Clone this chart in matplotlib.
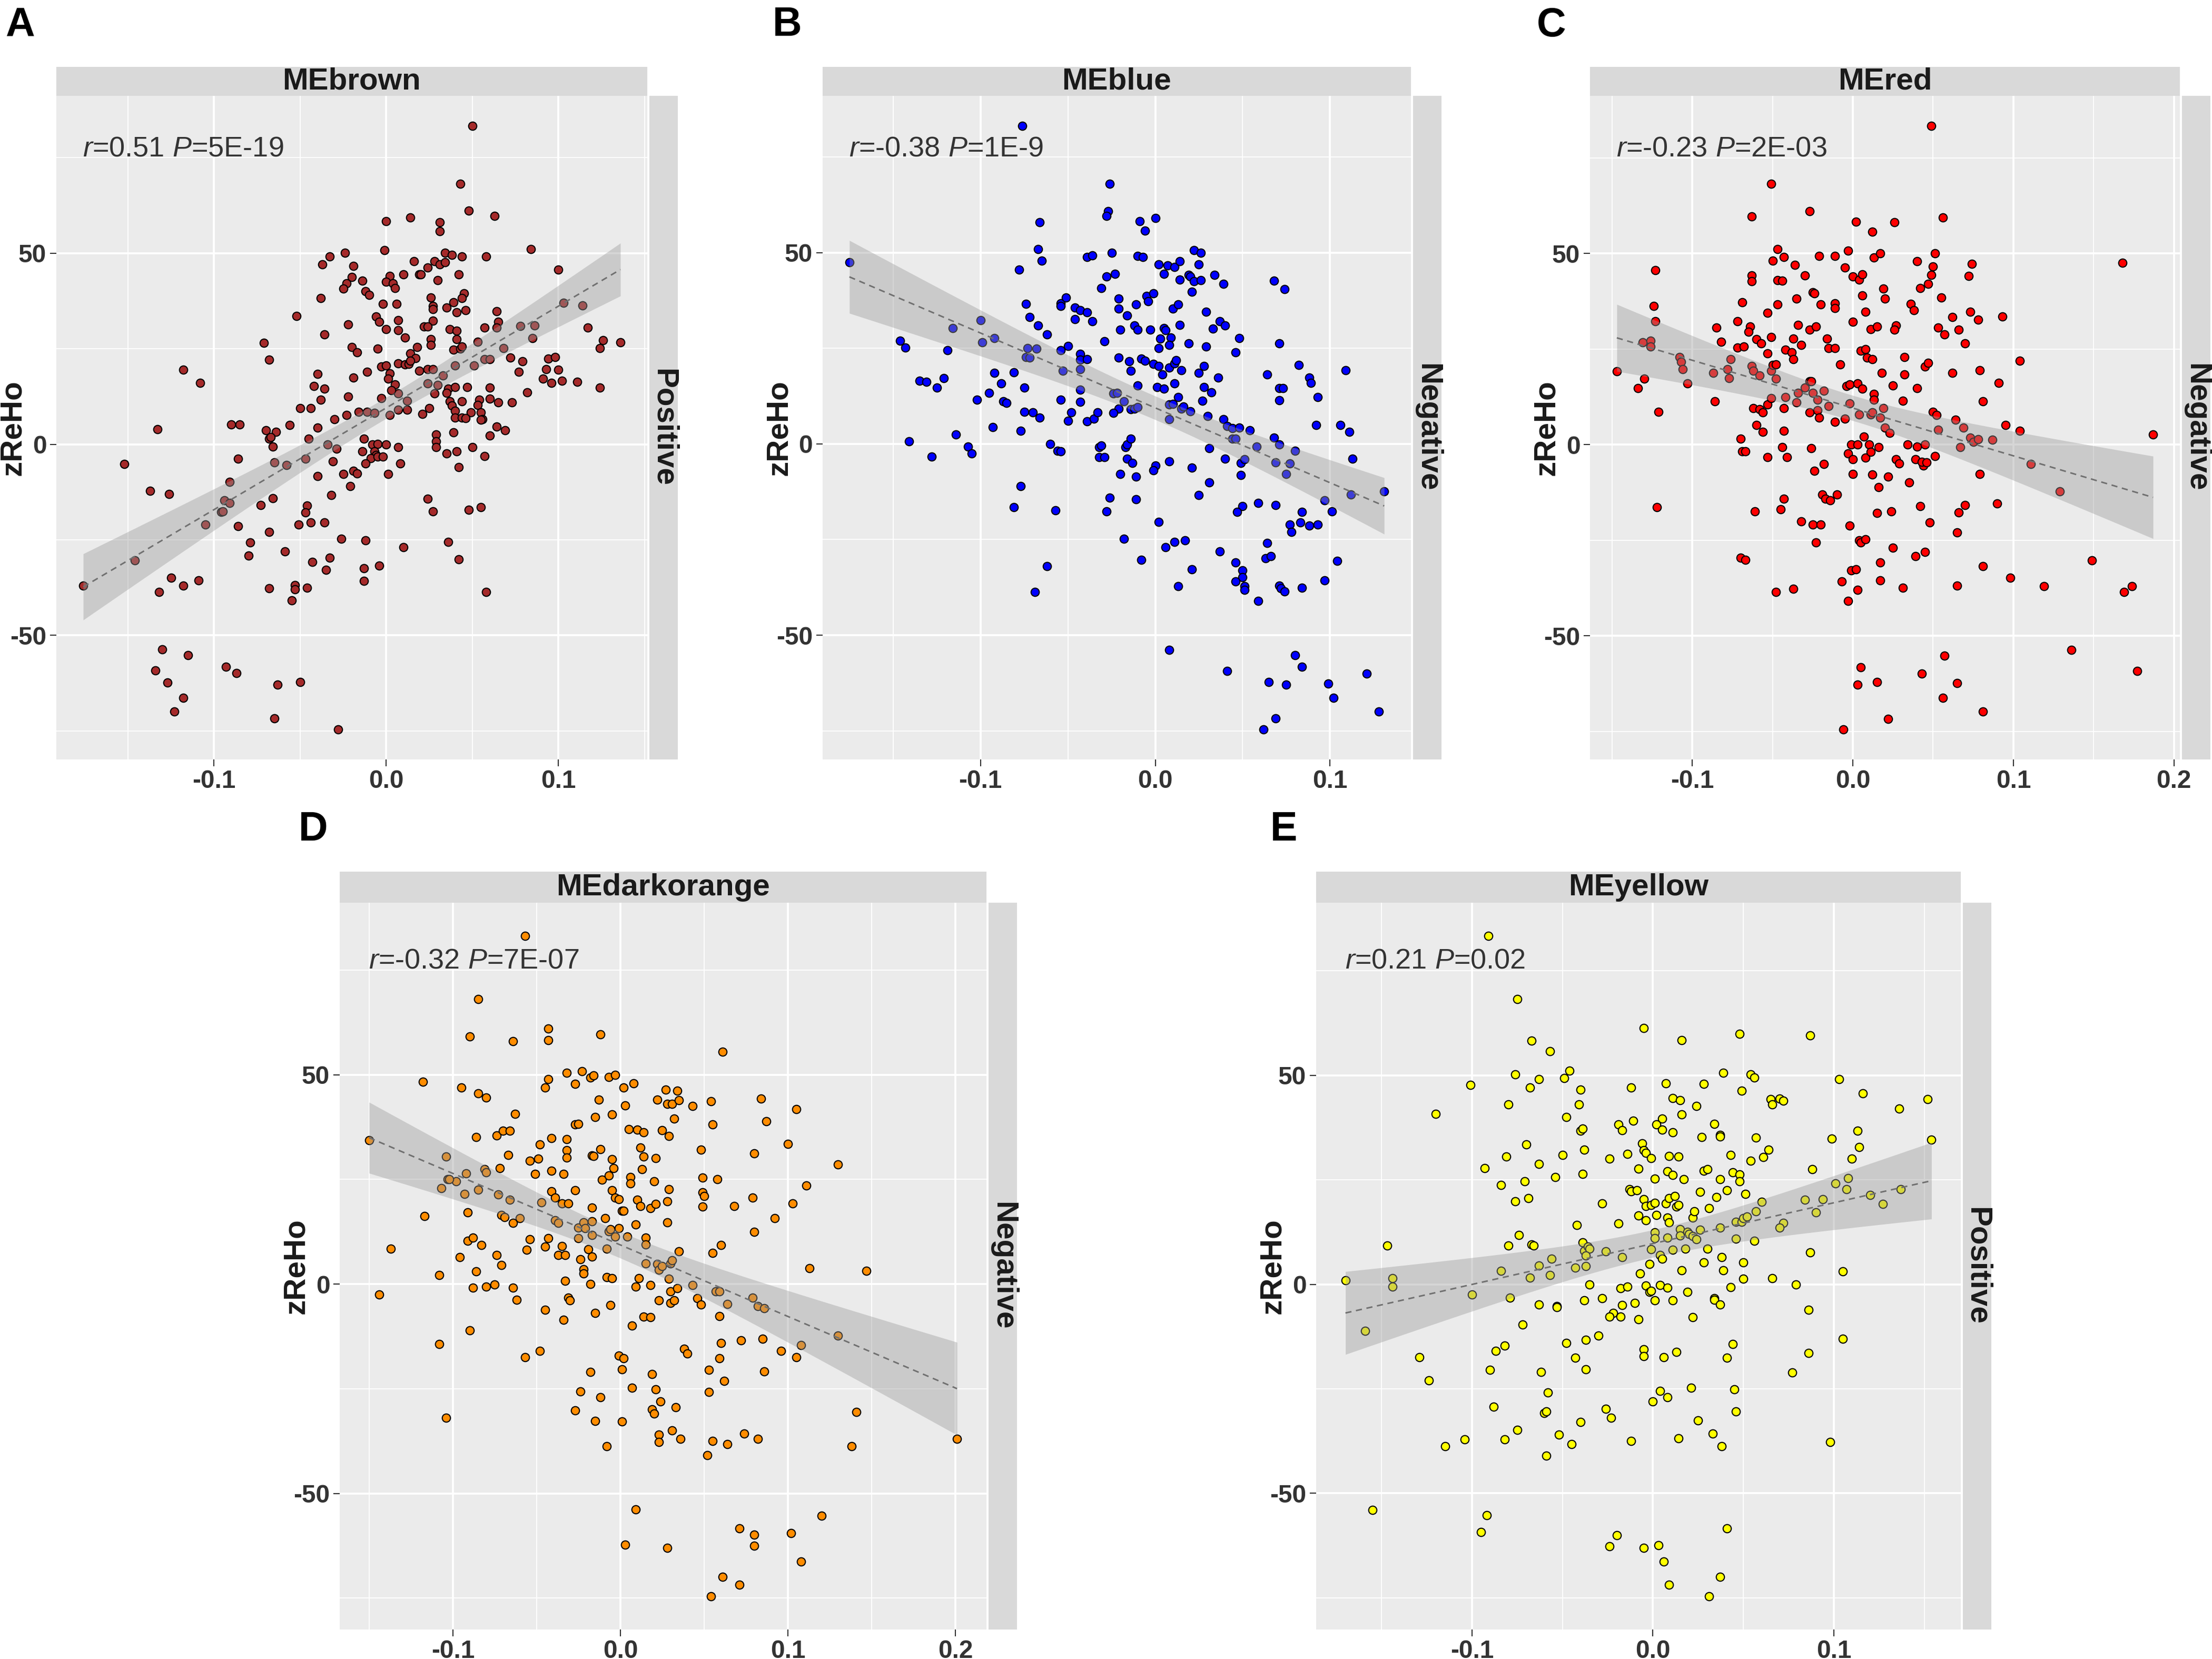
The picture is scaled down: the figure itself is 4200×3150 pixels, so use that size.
import numpy as np
import matplotlib.pyplot as plt
import matplotlib.ticker as ticker

plt.rcParams['font.family'] = ['Liberation Sans', 'DejaVu Sans']
plt.rcParams['axes.unicode_minus'] = False
plt.rcParams['mathtext.fontset'] = 'custom'
plt.rcParams['mathtext.it'] = 'Liberation Sans:italic'
plt.rcParams['mathtext.rm'] = 'Liberation Sans'

# module eigengene (x) vs zReHo (y)
brown_pts = [
    (0.050, 83.3), (0.043, 68.2), (0.048, 61.1), (0.063, 59.8), (0.000, 58.4), (0.014, 59.3), (0.031, 58.1),
    (0.031, 55.8), (-0.001, 50.8), (0.084, 51.1), (-0.024, 50.1), (-0.033, 49.2), (-0.037, 47.1), (0.016, 47.9),
    (0.034, 50.1), (0.038, 49.5), (0.044, 49.1), (0.058, 49.1), (0.028, 47.9), (0.031, 47.1), (0.034, 47.7),
    (0.024, 46.3), (-0.019, 46.7), (0.019, 44.5), (0.020, 44.4), (0.010, 44.4), (0.002, 44.1), (0.042, 44.4),
    (-0.020, 43.8), (-0.014, 42.8), (0.000, 42.6), (0.004, 42.1), (0.030, 42.9), (0.100, 45.7), (-0.023, 42.1),
    (-0.025, 40.8), (-0.012, 40.1), (-0.010, 39.1), (0.005, 40.9), (-0.038, 38.2), (0.026, 38.4), (0.045, 39.5),
    (0.044, 38.2), (-0.002, 36.8), (0.006, 36.7), (0.027, 36.2), (0.027, 35.3), (0.035, 35.8), (0.039, 37.2),
    (0.046, 35.1), (0.041, 34.6), (0.064, 34.8), (0.103, 37.0), (0.114, 36.3), (-0.052, 33.6), (-0.006, 33.5),
    (-0.004, 32.0), (0.007, 32.5), (0.027, 32.4), (0.065, 32.1), (-0.022, 31.3), (0.022, 30.8), (0.024, 30.8),
    (0.000, 30.1), (0.007, 29.9), (0.037, 30.1), (0.041, 29.7), (0.057, 30.6), (0.064, 30.6), (0.078, 31.0),
    (0.086, 31.1), (0.117, 30.6), (-0.036, 28.7), (0.011, 27.9), (0.026, 27.5), (0.041, 27.5), (0.085, 27.8),
    (0.126, 27.2), (0.136, 26.7), (0.053, 26.8), (-0.071, 26.5), (-0.020, 25.5), (-0.017, 24.1), (-0.005, 25.0),
    (0.018, 25.5), (0.026, 26.0), (0.039, 24.8), (0.043, 25.0), (0.044, 25.6), (0.068, 25.1), (0.124, 25.1),
    (0.014, 23.8), (0.017, 22.5), (0.072, 22.7), (0.079, 21.7), (0.094, 22.4), (0.098, 22.8), (0.057, 22.3),
    (0.060, 22.3), (-0.068, 22.1), (-0.003, 20.4), (0.000, 20.6), (0.007, 21.1), (0.011, 20.9), (0.013, 21.0),
    (0.014, 21.8), (0.051, 20.6), (0.040, 20.6), (-0.118, 19.5), (0.093, 19.6), (0.100, 19.5), (0.077, 18.9),
    (-0.040, 18.4), (-0.011, 18.9), (0.002, 18.6), (0.019, 19.3), (0.024, 19.6), (0.027, 19.7), (0.033, 18.0),
    (0.001, 17.2), (-0.019, 17.4), (0.091, 17.2), (0.096, 16.0), (0.102, 16.6), (0.111, 16.4), (0.124, 14.8),
    (-0.108, 16.1), (-0.042, 15.3), (-0.036, 14.5), (0.005, 15.7), (0.024, 15.9), (0.030, 15.5), (0.036, 14.5),
    (0.040, 14.9), (0.047, 14.9), (0.060, 14.8), (0.007, 13.3), (0.028, 13.3), (0.035, 13.5), (-0.022, 12.5),
    (0.003, 14.2), (-0.038, 11.6), (-0.003, 12.1), (0.037, 11.2), (0.038, 10.1), (0.044, 11.2), (0.054, 11.7),
    (0.053, 10.3), (0.060, 11.9), (0.065, 11.0), (0.073, 10.9), (0.082, 13.6), (0.012, 11.4), (-0.050, 9.4),
    (-0.044, 9.4), (-0.016, 8.5), (-0.023, 7.7), (-0.011, 8.5), (-0.007, 8.2), (0.002, 7.6), (0.007, 9.1),
    (0.012, 9.1), (0.021, 7.9), (0.025, 9.5), (0.040, 8.8), (0.049, 8.4), (0.055, 8.4), (0.056, 6.6),
    (0.055, 6.4), (0.040, 7.0), (0.044, 7.0), (0.046, 6.8), (-0.030, 6.6), (-0.090, 5.2), (-0.085, 5.2),
    (-0.056, 5.0), (-0.040, 4.4), (0.064, 4.6), (0.069, 3.6), (0.060, 2.3), (-0.133, 3.9), (-0.070, 3.6),
    (-0.064, 3.2), (-0.068, 1.4), (-0.067, 1.9), (-0.045, 1.5), (-0.013, 1.5), (0.029, 2.6), (0.029, 0.7),
    (0.039, 3.1), (-0.066, -0.6), (-0.034, -0.1), (-0.029, -1.1), (-0.008, 0.0), (-0.005, 0.1), (0.000, 0.0),
    (-0.014, -1.8), (-0.007, -1.9), (-0.006, -2.8), (-0.009, -3.7), (-0.005, -3.3), (-0.002, -3.3), (0.007, -0.8),
    (0.029, -0.8), (0.035, -2.4), (0.041, -1.8), (0.050, -0.7), (0.057, -3.1), (-0.152, -5.2), (-0.086, -3.8),
    (-0.065, -4.7), (-0.058, -5.5), (-0.047, -3.8), (-0.031, -4.5), (-0.012, -5.0), (0.008, -5.0), (0.042, -6.0),
    (-0.019, -6.9), (-0.017, -7.6), (-0.025, -7.8), (0.001, -7.8), (-0.040, -8.3), (-0.137, -12.2), (-0.126, -13.0),
    (-0.091, -9.8), (-0.021, -11.0), (-0.032, -13.3), (-0.094, -14.7), (-0.091, -15.4), (-0.096, -17.7),
    (-0.095, -17.6), (-0.066, -14.1), (-0.073, -15.9), (-0.046, -16.0), (-0.047, -17.9), (0.024, -14.2),
    (0.027, -17.6), (0.048, -17.1), (0.055, -16.5), (-0.105, -21.0), (-0.086, -21.4), (-0.051, -21.0),
    (-0.044, -20.5), (-0.036, -20.4), (-0.079, -25.7), (-0.068, -22.9), (-0.026, -24.7), (-0.012, -25.1),
    (0.036, -25.5), (0.010, -26.9), (-0.080, -29.2), (-0.059, -28.0), (-0.146, -30.4), (-0.033, -29.7),
    (-0.043, -30.8), (-0.035, -32.9), (-0.004, -31.8), (-0.013, -32.5), (0.042, -30.1), (-0.125, -34.9),
    (-0.109, -35.6), (-0.176, -37.0), (-0.118, -37.0), (-0.132, -38.6), (-0.068, -37.7), (-0.053, -36.8),
    (-0.053, -38.0), (-0.046, -37.5), (-0.013, -35.8), (0.058, -38.6), (-0.055, -40.9), (-0.130, -53.7),
    (-0.115, -55.2), (-0.134, -59.2), (-0.127, -62.4), (-0.093, -58.2), (-0.087, -59.9), (-0.063, -62.9),
    (-0.050, -62.2), (-0.118, -66.3), (-0.123, -70.0), (-0.065, -71.8), (-0.028, -74.6),
]

blue_pts = [
    (-0.076, 83.1), (-0.026, 68.0), (-0.027, 60.9), (-0.028, 59.6), (-0.009, 58.2), (0.000, 59.1), (-0.006, 55.7),
    (-0.066, 57.9), (-0.067, 50.9), (-0.065, 47.9), (-0.175, 47.5), (-0.078, 45.5), (-0.039, 48.9), (-0.036, 49.3),
    (-0.025, 49.9), (-0.010, 49.2), (-0.007, 48.9), (0.002, 46.9), (0.007, 46.6), (0.011, 46.2), (0.014, 47.7),
    (0.022, 50.7), (0.026, 50.0), (0.025, 46.9), (0.005, 44.4), (0.019, 44.2), (0.020, 43.8), (0.022, 42.5),
    (0.026, 42.8), (0.014, 42.9), (0.034, 44.2), (0.039, 41.9), (-0.028, 43.8), (-0.023, 44.4), (-0.031, 40.8),
    (0.068, 42.7), (0.074, 40.5), (0.021, 39.8), (-0.021, 38.0), (-0.011, 36.4), (-0.005, 38.7), (-0.004, 37.3),
    (-0.001, 39.3), (0.010, 35.4), (0.013, 36.4), (0.029, 34.6), (-0.021, 35.3), (-0.016, 33.6), (-0.074, 36.6),
    (-0.072, 33.2), (-0.054, 36.8), (-0.054, 36.1), (-0.051, 38.3), (-0.046, 35.7), (-0.043, 34.9), (-0.039, 34.4),
    (-0.046, 32.6), (-0.036, 32.0), (-0.067, 31.0), (-0.062, 28.6), (-0.012, 30.9), (-0.010, 29.8), (-0.020, 29.9),
    (-0.003, 29.9), (0.005, 30.3), (0.006, 29.7), (0.014, 31.1), (0.037, 32.0), (0.040, 30.9), (0.033, 30.1),
    (-0.116, 30.3), (-0.100, 32.3), (-0.099, 26.5), (-0.092, 27.6), (-0.146, 27.0), (-0.143, 25.2), (-0.119, 24.5),
    (-0.073, 25.1), (-0.068, 24.9), (-0.074, 22.7), (-0.072, 22.5), (-0.054, 24.5), (-0.050, 25.6), (-0.043, 23.5),
    (-0.043, 22.0), (-0.039, 22.2), (-0.043, 19.6), (-0.053, 19.1), (-0.029, 26.8), (0.003, 27.5), (0.009, 27.8),
    (0.002, 25.0), (0.008, 25.8), (0.019, 26.3), (0.029, 25.4), (0.048, 27.7), (0.046, 23.9), (0.071, 26.3),
    (-0.021, 22.6), (-0.015, 21.6), (-0.014, 19.1), (-0.008, 22.3), (-0.006, 21.7), (-0.001, 20.9), (0.002, 20.3),
    (0.004, 18.2), (0.008, 19.9), (0.011, 21.0), (0.012, 21.9), (0.015, 19.2), (0.025, 18.6), (0.028, 20.3),
    (0.036, 17.3), (0.064, 18.2), (0.082, 20.6), (0.088, 17.3), (0.089, 16.0), (0.109, 19.2), (-0.135, 16.5),
    (-0.131, 16.2), (-0.125, 14.7), (-0.121, 17.2), (-0.092, 18.5), (-0.088, 15.8), (-0.095, 13.4), (-0.102, 11.6),
    (-0.087, 11.1), (-0.085, 10.7), (-0.081, 18.7), (-0.075, 14.7), (-0.054, 11.6), (-0.043, 11.0), (-0.048, 8.2),
    (-0.050, 6.0), (-0.039, 5.9), (-0.035, 6.6), (-0.033, 8.3), (-0.043, 14.2), (-0.024, 13.2), (-0.022, 13.3),
    (-0.018, 11.1), (-0.021, 9.2), (-0.024, 8.1), (-0.014, 9.0), (-0.012, 9.2), (-0.010, 15.3), (-0.010, 9.6),
    (0.001, 14.8), (0.005, 14.5), (0.011, 15.8), (0.013, 12.2), (0.008, 10.3), (0.010, 10.5), (0.015, 9.2),
    (0.016, 9.7), (0.020, 8.5), (0.008, 6.5), (0.028, 14.9), (0.032, 13.5), (0.027, 11.3), (0.030, 7.3),
    (0.039, 6.4), (0.041, 4.7), (0.044, 4.1), (0.048, 4.3), (0.054, 3.6), (0.044, 1.3), (0.046, 1.3),
    (0.071, 14.6), (0.073, 14.6), (0.071, 11.4), (0.093, 12.3), (0.092, 5.0), (0.106, 5.0), (0.111, 3.2),
    (-0.141, 0.7), (-0.114, 2.5), (-0.093, 4.4), (-0.077, 3.4), (-0.075, 8.4), (-0.070, 8.2), (-0.066, 6.9),
    (-0.107, -0.7), (-0.105, -2.5), (-0.128, -3.3), (-0.060, 0.0), (-0.056, -1.8), (-0.054, -2.0), (-0.032, -0.8),
    (-0.031, -0.4), (-0.032, -3.4), (-0.029, -3.4), (-0.017, -0.8), (-0.016, -0.2), (-0.014, 1.3), (-0.016, -3.9),
    (-0.013, -5.0), (-0.020, -7.8), (-0.011, -8.5), (0.000, -5.6), (-0.001, -6.9), (0.008, -4.6), (0.021, -6.2),
    (0.031, -1.1), (0.040, -3.9), (0.049, -5.0), (0.051, -4.0), (0.049, -8.1), (0.058, -0.7), (0.068, 1.7),
    (0.071, -0.2), (0.069, -4.9), (0.077, -5.1), (0.080, -1.8), (0.075, -7.9), (0.113, -3.9), (-0.077, -11.1),
    (-0.081, -16.6), (-0.057, -17.3), (-0.026, -14.1), (-0.028, -17.7), (-0.011, -14.5), (0.031, -10.0),
    (0.025, -13.4), (0.059, -15.5), (0.050, -16.2), (0.047, -17.8), (0.069, -16.0), (0.084, -17.8), (0.097, -14.8),
    (0.101, -17.7), (0.112, -13.2), (0.131, -12.4), (0.002, -20.4), (0.077, -21.1), (0.078, -23.0), (0.083, -20.6),
    (0.088, -21.3), (0.093, -21.1), (-0.018, -24.8), (0.006, -27.0), (0.011, -25.6), (0.017, -25.2), (0.037, -28.1),
    (0.064, -25.9), (0.063, -29.9), (0.066, -29.3), (-0.008, -30.3), (0.021, -32.8), (0.046, -31.0), (0.050, -33.1),
    (0.050, -34.8), (0.046, -35.9), (0.051, -37.2), (0.051, -38.2), (0.059, -41.0), (0.071, -37.0), (0.072, -37.8),
    (0.074, -38.6), (0.084, -37.6), (0.097, -35.7), (0.104, -30.6), (0.013, -37.2), (-0.062, -31.9), (-0.069, -38.7),
    (0.008, -53.9), (0.041, -59.4), (0.080, -55.2), (0.084, -58.3), (0.065, -62.2), (0.075, -62.9), (0.099, -62.6),
    (0.121, -60.0), (0.102, -66.4), (0.128, -70.0), (0.069, -71.7), (0.062, -74.6),
]

red_pts = [
    (0.049, 83.3), (-0.051, 68.2), (-0.063, 59.7), (-0.027, 61.0), (0.002, 58.3), (0.012, 55.7), (0.026, 58.2),
    (0.056, 59.4), (-0.047, 51.1), (-0.050, 48.1), (-0.043, 49.1), (-0.036, 47.0), (-0.021, 49.3), (-0.011, 49.4),
    (-0.003, 50.7), (-0.005, 46.3), (0.013, 48.9), (0.017, 50.0), (0.040, 47.9), (0.051, 50.0), (0.050, 46.6),
    (0.074, 47.2), (0.168, 47.6), (-0.123, 45.6), (-0.063, 44.3), (-0.063, 42.7), (-0.047, 43.0), (-0.044, 42.8),
    (-0.030, 44.3), (0.000, 44.0), (0.004, 43.1), (0.006, 44.5), (0.049, 44.4), (0.047, 42.1), (0.072, 44.1),
    (0.042, 41.0), (0.019, 40.8), (-0.025, 39.9), (-0.024, 39.5), (-0.035, 38.2), (0.006, 39.0), (0.020, 38.2),
    (0.055, 38.4), (-0.124, 36.3), (-0.069, 37.2), (-0.047, 36.6), (-0.020, 36.6), (-0.011, 37.0), (-0.011, 35.7),
    (0.036, 36.8), (0.038, 35.2), (0.008, 34.8), (-0.053, 34.5), (-0.123, 32.2), (-0.072, 32.3), (-0.064, 30.9),
    (-0.065, 29.5), (-0.085, 30.6), (-0.034, 31.3), (-0.027, 30.0), (-0.023, 30.9), (0.000, 32.1), (0.011, 30.2),
    (0.015, 30.9), (0.027, 31.2), (0.026, 30.1), (0.053, 30.6), (0.057, 28.8), (0.062, 33.3), (0.066, 30.0),
    (0.073, 34.7), (0.078, 32.7), (0.093, 33.5), (-0.131, 26.8), (-0.126, 27.1), (-0.126, 25.7), (-0.082, 26.9),
    (-0.072, 25.4), (-0.068, 25.6), (-0.060, 27.6), (-0.057, 26.5), (-0.051, 28.1), (-0.053, 23.8), (-0.042, 24.8),
    (-0.038, 24.2), (-0.037, 27.7), (-0.032, 26.1), (-0.016, 27.7), (-0.015, 25.2), (-0.011, 25.2), (0.005, 24.6),
    (0.008, 25.0), (0.009, 22.7), (0.012, 22.4), (0.032, 22.9), (0.070, 26.5), (0.104, 22.0), (-0.108, 22.9),
    (-0.107, 21.7), (-0.106, 19.8), (-0.103, 16.0), (-0.076, 22.4), (-0.078, 19.7), (-0.077, 17.4), (-0.087, 18.8),
    (-0.147, 19.2), (-0.130, 17.3), (-0.134, 14.8), (-0.063, 20.5), (-0.062, 19.3), (-0.058, 18.1), (-0.051, 19.3),
    (-0.050, 20.9), (-0.048, 17.3), (-0.048, 21.0), (-0.037, 22.3), (-0.008, 21.0), (0.018, 18.7), (0.032, 18.4),
    (0.045, 20.4), (0.047, 21.4), (0.062, 18.8), (0.079, 19.4), (0.091, 16.1), (-0.030, 14.9), (-0.027, 16.6),
    (-0.026, 16.5), (-0.025, 13.6), (-0.034, 13.6), (-0.022, 11.7), (-0.042, 12.4), (-0.035, 11.1), (-0.018, 14.1),
    (-0.004, 15.3), (-0.002, 15.8), (0.003, 16.0), (0.006, 14.6), (0.013, 13.3), (0.013, 11.7), (0.025, 15.5),
    (0.040, 14.8), (0.031, 11.5), (0.081, 11.4), (-0.086, 11.3), (-0.121, 8.6), (-0.062, 9.6), (-0.058, 9.2),
    (-0.056, 8.4), (-0.053, 10.5), (-0.051, 12.2), (-0.043, 9.5), (-0.027, 8.5), (-0.022, 9.0), (-0.021, 7.0),
    (-0.015, 10.1), (-0.002, 10.8), (-0.005, 6.8), (-0.011, 6.0), (0.004, 7.9), (0.011, 7.9), (0.012, 8.5),
    (0.017, 7.1), (0.019, 9.5), (0.020, 4.4), (0.023, 3.1), (0.050, 8.6), (0.052, 7.7), (0.053, 3.9),
    (0.064, 6.5), (0.069, 4.5), (0.073, 1.8), (0.075, 0.8), (0.078, 1.4), (0.087, 1.3), (0.095, 5.1),
    (0.104, 3.6), (0.187, 2.6), (-0.060, 5.1), (-0.056, 3.3), (-0.070, 1.5), (-0.069, -1.7), (-0.067, -1.8),
    (-0.053, -3.3), (-0.044, -0.7), (-0.043, 3.6), (-0.041, -3.3), (-0.026, -0.9), (-0.018, -5.0), (-0.024, -6.8),
    (-0.003, -2.3), (-0.001, 0.0), (0.003, 0.0), (0.007, 2.1), (0.010, 0.1), (0.000, -3.8), (0.008, -3.4),
    (0.011, -1.9), (0.016, -0.6), (0.000, -7.6), (0.012, -7.8), (0.016, -11.1), (0.022, -8.3), (0.027, -3.8),
    (0.029, -4.9), (0.034, 0.0), (0.040, -0.5), (0.045, 0.1), (0.039, -3.8), (0.044, -5.5), (0.043, -4.5),
    (0.046, -4.6), (0.051, -3.0), (0.035, -9.8), (0.067, -0.7), (0.079, -7.7), (0.111, -5.1), (0.129, -12.2),
    (-0.122, -16.4), (-0.061, -17.4), (-0.045, -16.9), (-0.043, -14.2), (-0.019, -13.0), (-0.017, -14.1),
    (-0.014, -14.5), (-0.010, -13.0), (-0.032, -20.1), (-0.025, -20.9), (-0.020, -20.9), (-0.023, -25.5),
    (-0.002, -21.2), (0.004, -25.0), (0.005, -25.5), (0.008, -24.8), (0.015, -17.8), (0.024, -17.5), (0.042, -16.0),
    (0.048, -20.4), (0.066, -17.7), (0.070, -15.8), (0.090, -15.4), (0.065, -22.9), (-0.070, -29.6), (-0.067, -30.1),
    (0.025, -26.9), (0.039, -29.1), (0.045, -28.0), (0.017, -30.8), (0.081, -31.8), (-0.001, -32.8), (0.002, -32.6),
    (-0.007, -35.8), (0.017, -35.5), (-0.048, -38.5), (-0.037, -37.7), (0.003, -38.0), (-0.003, -40.9),
    (0.031, -37.4), (0.065, -36.8), (0.098, -34.8), (0.119, -37.0), (0.149, -30.3), (0.169, -38.5), (0.174, -37.0),
    (0.136, -53.7), (0.177, -59.1), (0.057, -55.1), (0.005, -58.2), (0.003, -62.8), (0.015, -62.1), (0.043, -59.8),
    (0.065, -62.3), (0.056, -66.2), (0.081, -69.8), (0.022, -71.7), (-0.006, -74.4),
]

darkorange_pts = [
    (-0.057, 83.2), (-0.085, 68.1), (-0.090, 59.2), (-0.064, 58.0), (-0.043, 61.0), (-0.043, 58.2), (-0.012, 59.7),
    (0.061, 55.5), (-0.118, 48.3), (-0.095, 46.9), (-0.085, 45.6), (-0.080, 44.6), (-0.063, 40.7), (-0.045, 47.0),
    (-0.043, 49.0), (-0.032, 50.5), (-0.027, 47.8), (-0.023, 50.9), (-0.018, 49.3), (-0.016, 49.8), (-0.007, 49.4),
    (-0.003, 49.9), (-0.013, 44.1), (0.002, 47.0), (0.008, 47.9), (0.003, 42.7), (-0.005, 40.5), (-0.015, 39.9),
    (0.022, 44.1), (0.027, 46.5), (0.034, 46.2), (0.028, 43.0), (0.031, 43.0), (0.035, 43.9), (0.043, 42.5),
    (0.054, 43.7), (0.084, 44.3), (0.105, 41.8), (-0.027, 38.1), (-0.025, 38.3), (0.005, 37.0), (0.010, 36.9),
    (0.014, 36.3), (0.025, 36.7), (0.029, 35.4), (0.032, 39.5), (0.055, 38.1), (0.087, 38.9), (-0.086, 35.1),
    (-0.074, 35.5), (-0.070, 36.6), (-0.066, 36.6), (-0.041, 34.9), (-0.032, 34.6), (-0.048, 33.3), (-0.150, 34.4),
    (-0.104, 30.5), (-0.067, 30.9), (-0.049, 29.9), (-0.054, 29.4), (-0.032, 32.0), (-0.032, 30.2), (-0.017, 30.7),
    (-0.016, 30.6), (-0.012, 32.2), (-0.005, 29.8), (-0.004, 27.7), (0.012, 32.6), (0.014, 30.5), (0.021, 30.1),
    (0.013, 27.4), (0.048, 32.1), (0.080, 31.2), (0.100, 33.5), (0.130, 28.6), (-0.081, 27.5), (-0.080, 26.7),
    (-0.072, 27.7), (-0.041, 27.1), (-0.034, 26.3), (-0.051, 26.3), (-0.092, 26.5), (-0.103, 25.1), (-0.098, 24.6),
    (-0.102, 25.1), (-0.107, 22.9), (-0.011, 24.9), (-0.007, 25.9), (0.006, 25.5), (0.006, 24.0), (0.020, 24.6),
    (0.049, 25.4), (0.058, 25.1), (0.111, 23.5), (-0.093, 21.5), (-0.085, 22.6), (-0.073, 21.4), (-0.066, 20.2),
    (-0.041, 22.2), (-0.039, 20.7), (-0.035, 19.3), (-0.031, 19.3), (-0.027, 22.4), (-0.005, 22.4), (-0.003, 20.6),
    (-0.001, 20.3), (0.001, 17.5), (0.002, 17.5), (0.010, 20.2), (0.012, 18.7), (0.018, 18.1), (0.021, 19.1),
    (0.028, 19.8), (0.029, 22.7), (0.049, 21.9), (0.050, 21.0), (0.049, 18.5), (0.068, 18.7), (0.079, 20.6),
    (0.103, 19.3), (-0.117, 16.3), (-0.091, 17.1), (-0.071, 16.5), (-0.069, 16.0), (-0.064, 14.6), (-0.060, 15.8),
    (-0.047, 19.5), (-0.039, 15.3), (-0.037, 14.6), (-0.025, 13.5), (-0.022, 14.7), (-0.021, 13.4), (-0.017, 15.0),
    (-0.025, 11.0), (-0.017, 11.7), (-0.017, 18.3), (-0.009, 15.8), (-0.007, 12.6), (-0.006, 13.1), (-0.003, 11.4),
    (-0.001, 13.4), (0.004, 11.3), (0.009, 14.2), (0.015, 11.1), (0.015, 9.5), (0.028, 14.7), (0.080, 12.5),
    (0.092, 15.7), (-0.137, 8.5), (-0.091, 10.3), (-0.088, 11.1), (-0.083, 9.3), (-0.056, 8.2), (-0.054, 10.7),
    (-0.096, 6.4), (-0.074, 7.0), (-0.071, 4.5), (-0.045, 9.0), (-0.043, 11.0), (-0.037, 6.9), (-0.035, 9.1),
    (-0.033, 6.9), (-0.024, 5.9), (-0.019, 8.3), (-0.017, 6.6), (-0.022, 3.5), (-0.022, 2.5), (-0.018, 0.0),
    (-0.008, 8.5), (-0.008, 1.6), (-0.005, 1.4), (0.015, 4.9), (0.022, 4.8), (0.023, 3.4), (0.025, 4.3),
    (0.030, 4.9), (0.031, 5.7), (0.035, 7.8), (0.011, 1.4), (0.009, -0.6), (0.018, -0.2), (0.029, 1.3),
    (0.030, -1.7), (0.034, -1.0), (0.043, -0.2), (0.055, 7.5), (0.060, 9.3), (0.057, -1.7), (0.059, -1.8),
    (-0.108, 2.2), (-0.144, -2.5), (-0.088, -0.8), (-0.086, 3.0), (-0.080, -0.6), (-0.075, -0.1), (-0.064, -0.8),
    (-0.062, -3.7), (-0.033, 0.8), (-0.031, -3.2), (-0.030, -3.9), (-0.045, -6.1), (-0.034, -8.5), (-0.015, -6.9),
    (-0.006, -5.0), (0.007, -9.9), (0.014, -7.8), (0.018, -7.9), (0.023, -3.9), (0.030, -4.5), (0.032, -3.9),
    (0.046, -3.4), (0.048, -4.9), (0.059, -7.7), (0.064, -4.8), (0.079, -3.2), (0.082, -5.3), (0.086, -5.7),
    (0.113, 3.8), (0.147, 3.2), (-0.090, -11.1), (-0.108, -14.3), (-0.057, -17.5), (-0.048, -15.9), (0.038, -15.5),
    (0.040, -16.6), (0.060, -14.1), (0.072, -13.4), (0.085, -13.1), (0.096, -16.0), (0.105, -17.5), (0.108, -14.6),
    (0.130, -12.3), (-0.001, -17.1), (0.002, -17.7), (0.001, -20.3), (0.059, -17.7), (-0.018, -21.0), (0.019, -21.5),
    (0.053, -20.5), (0.062, -23.1), (0.086, -20.9), (-0.024, -25.6), (-0.012, -27.0), (0.007, -24.7), (0.021, -25.1),
    (0.053, -25.8), (-0.027, -30.2), (0.019, -29.9), (0.020, -30.9), (0.024, -28.0), (0.033, -29.4), (-0.104, -31.9),
    (-0.015, -32.7), (0.001, -32.8), (0.031, -34.9), (0.023, -35.9), (0.023, -37.7), (0.036, -36.9), (-0.008, -38.7),
    (0.055, -37.5), (0.052, -40.9), (0.064, -38.2), (0.074, -35.7), (0.082, -37.0), (0.141, -30.5), (0.138, -38.7),
    (0.201, -37.0), (0.009, -53.8), (0.120, -55.3), (0.071, -58.3), (0.080, -59.9), (0.080, -62.5), (0.102, -59.5),
    (0.003, -62.3), (0.028, -63.0), (0.108, -66.3), (0.061, -69.9), (0.071, -71.8), (0.054, -74.6),
]

yellow_pts = [
    (-0.091, 83.4), (-0.075, 68.3), (-0.005, 61.3), (0.016, 58.4), (0.048, 59.9), (0.087, 59.5), (-0.067, 58.3),
    (-0.057, 55.8), (-0.076, 50.2), (-0.068, 47.1), (-0.063, 49.1), (-0.049, 49.3), (-0.046, 51.1), (-0.040, 46.6),
    (-0.101, 47.7), (-0.120, 40.8), (-0.080, 43.1), (-0.041, 43.1), (-0.048, 40.0), (-0.040, 36.7), (-0.039, 37.2),
    (-0.012, 47.1), (0.007, 48.1), (0.011, 44.6), (0.015, 44.1), (0.024, 42.7), (0.028, 47.9), (0.039, 50.6),
    (0.049, 46.3), (0.054, 50.2), (0.056, 49.5), (0.065, 44.3), (0.066, 43.0), (0.070, 44.4), (0.072, 43.9),
    (0.103, 49.1), (0.116, 45.7), (0.136, 42.0), (0.152, 44.3), (0.154, 34.6), (-0.019, 38.3), (-0.017, 36.9),
    (-0.011, 39.1), (0.005, 39.6), (0.002, 38.3), (0.005, 37.0), (0.011, 36.4), (0.016, 40.7), (0.027, 35.2),
    (0.034, 38.4), (0.037, 35.7), (0.037, 35.4), (0.057, 35.1), (0.099, 34.8), (0.113, 36.7), (0.114, 32.8),
    (-0.070, 33.4), (-0.081, 30.6), (-0.050, 30.9), (-0.038, 32.2), (-0.024, 30.0), (-0.014, 31.2), (-0.006, 33.7),
    (-0.005, 32.1), (-0.004, 31.5), (-0.001, 30.2), (0.009, 30.7), (0.014, 30.6), (0.043, 30.9), (0.054, 29.6),
    (0.061, 30.4), (0.064, 32.2), (0.110, 30.1), (-0.093, 27.8), (-0.063, 28.8), (-0.054, 25.7), (-0.084, 23.7),
    (-0.071, 24.7), (-0.039, 26.4), (-0.008, 27.7), (0.001, 25.3), (0.008, 27.0), (0.011, 26.2), (0.017, 25.2),
    (0.028, 27.1), (0.030, 27.6), (0.037, 25.1), (0.044, 26.8), (0.048, 26.3), (0.048, 24.6), (0.088, 27.5),
    (0.101, 24.1), (0.108, 25.4), (-0.076, 19.9), (-0.069, 20.6), (-0.028, 19.4), (-0.013, 22.7), (-0.012, 22.2),
    (-0.009, 22.5), (-0.005, 20.4), (-0.004, 18.7), (-0.001, 19.0), (0.001, 19.5), (0.007, 19.4), (0.009, 20.6),
    (0.012, 21.1), (0.013, 18.6), (0.014, 19.0), (0.026, 22.1), (0.035, 20.8), (0.041, 22.5), (0.051, 21.6),
    (0.060, 19.7), (0.084, 20.2), (0.094, 20.4), (0.107, 22.7), (0.120, 21.4), (0.127, 19.2), (0.137, 22.8),
    (-0.042, 14.2), (-0.019, 14.5), (-0.008, 16.4), (-0.004, 15.3), (0.002, 16.6), (0.008, 15.9), (0.009, 14.8),
    (0.022, 15.9), (0.023, 17.4), (0.031, 18.2), (0.046, 14.9), (0.049, 14.9), (0.050, 15.8), (0.052, 16.2),
    (0.057, 17.4), (0.072, 14.7), (0.070, 13.5), (0.090, 17.2), (-0.074, 11.8), (-0.067, 9.5), (-0.066, 9.3),
    (-0.080, 9.3), (-0.147, 9.3), (-0.039, 10.0), (-0.038, 8.0), (-0.036, 9.0), (-0.035, 8.5), (-0.037, 6.9),
    (-0.026, 7.9), (-0.017, 6.5), (0.001, 12.4), (0.001, 11.0), (-0.001, 8.4), (0.008, 11.1), (0.011, 8.2),
    (0.015, 13.2), (0.015, 11.7), (0.019, 12.6), (0.020, 12.1), (0.022, 11.5), (0.024, 10.8), (0.026, 13.1),
    (0.037, 13.6), (0.046, 10.9), (0.056, 10.4), (0.030, 8.5), (0.038, 6.5), (0.004, 7.0), (0.005, 6.1),
    (0.018, 8.5), (0.087, 7.6), (-0.063, 4.5), (-0.056, 6.1), (-0.057, 2.2), (-0.084, 3.2), (-0.068, 1.6),
    (-0.043, 4.0), (-0.037, 4.4), (-0.007, 2.6), (-0.002, 4.9), (0.016, 3.4), (0.028, 5.2), (0.039, 3.4),
    (0.050, 5.2), (0.050, 1.3), (0.066, 1.4), (0.105, 3.1), (-0.170, 0.9), (-0.144, 1.5), (-0.144, -0.6),
    (-0.100, -2.4), (-0.079, -3.2), (-0.063, -4.8), (-0.053, -5.2), (-0.053, -5.5), (-0.035, 0.0), (-0.038, -3.9),
    (-0.028, -3.4), (-0.018, -1.0), (-0.014, -0.6), (-0.010, -4.5), (-0.017, -5.0), (-0.004, -0.3), (-0.002, -1.8),
    (-0.001, -1.6), (0.001, -3.8), (0.004, -0.2), (0.008, -0.8), (0.011, -3.8), (0.019, -1.8), (0.034, -3.3),
    (0.034, -3.7), (0.037, -4.9), (0.043, -0.7), (0.079, 0.0), (0.086, -6.1), (-0.022, -6.9), (-0.024, -7.7),
    (-0.018, -7.8), (-0.008, -8.4), (0.022, -7.9), (-0.159, -11.1), (-0.072, -9.7), (-0.030, -12.3), (-0.037, -13.3),
    (-0.048, -14.1), (-0.082, -14.7), (-0.087, -15.9), (-0.005, -15.5), (-0.005, -17.2), (0.006, -17.5),
    (0.013, -16.2), (0.044, -14.3), (0.041, -17.6), (0.105, -13.1), (0.086, -16.5), (-0.129, -17.5), (-0.043, -17.6),
    (-0.090, -20.5), (-0.062, -21.0), (-0.037, -20.3), (0.077, -21.1), (-0.124, -23.0), (-0.058, -25.9),
    (0.021, -24.7), (0.045, -25.2), (0.004, -25.5), (0.008, -27.0), (0.000, -28.1), (-0.088, -29.3), (-0.060, -30.8),
    (-0.059, -30.4), (-0.026, -29.8), (-0.023, -32.0), (0.046, -30.4), (-0.040, -32.9), (0.025, -32.6),
    (-0.075, -34.9), (-0.082, -37.1), (-0.104, -37.1), (-0.115, -38.8), (-0.052, -36.0), (-0.045, -38.3),
    (-0.012, -37.5), (0.014, -36.9), (0.033, -35.7), (0.038, -38.8), (0.098, -37.7), (-0.059, -41.0),
    (-0.155, -54.0), (-0.092, -55.3), (-0.095, -59.3), (-0.020, -60.0), (-0.024, -62.7), (-0.005, -63.1),
    (0.003, -62.4), (0.006, -66.4), (0.041, -58.4), (0.037, -70.0), (0.009, -71.9), (0.031, -74.7),
]

modules = ['MEbrown', 'MEblue', 'MEred', 'MEdarkorange', 'MEyellow']
module_pts = [brown_pts, blue_pts, red_pts, darkorange_pts, yellow_pts]
colors = ['#A52A2A', '#0000FF', '#FF0000', '#FF8C00', '#FFFF00']
signs = ['Positive', 'Negative', 'Negative', 'Negative', 'Positive']
r_vals = ['0.51', '-0.38', '-0.23', '-0.32', '0.21']
p_vals = ['5E-19', '1E-9', '2E-03', '7E-07', '0.02']
letters = ['A', 'B', 'C', 'D', 'E']

W, H = 4200, 3150
# panel boxes in pixels: left, top, right, bottom ; strip height ; letter position
boxes = [(107, 182, 1229, 1442), (1562, 182, 2679, 1442), (3019, 182, 4139, 1442),
         (645, 1714, 1873, 3094), (2499, 1714, 3723, 3094)]
strip_h = [55, 55, 55, 59, 59]
letter_xy = [(38, 48), (1495, 48), (2946, 48), (595, 1575), (2438, 1575)]


def lm_band(x, y, xs):
    n = len(x)
    xm = x.mean()
    sxx = ((x - xm) ** 2).sum()
    b = ((x - xm) * (y - y.mean())).sum() / sxx
    a = y.mean() - b * xm
    s = np.sqrt(((y - a - b * x) ** 2).sum() / (n - 2))
    fit = a + b * xs
    se = s * np.sqrt(1 / n + (xs - xm) ** 2 / sxx)
    return fit, fit - 1.97 * se, fit + 1.97 * se


fig = plt.figure(figsize=(14, 10.5), dpi=300)

for i in range(5):
    l, t, r, b = boxes[i]
    ax = fig.add_axes([l / W, 1 - b / H, (r - l) / W, (b - t) / H])
    pts = np.array(module_pts[i])
    x, y = pts[:, 0], pts[:, 1]

    ax.set_facecolor('#EBEBEB')
    for sp in ax.spines.values():
        sp.set_visible(False)
    ax.set_axisbelow(True)
    ax.grid(which='major', color='white', linewidth=0.9)
    ax.grid(which='minor', color='white', linewidth=0.45)

    ax.scatter(x, y, s=14, c=colors[i], edgecolors='black', linewidths=0.5, zorder=2)

    xs = np.linspace(x.min(), x.max(), 100)
    fit, lo, hi = lm_band(x, y, xs)
    ax.fill_between(xs, lo, hi, color='#999999', alpha=0.4, linewidth=0, zorder=3)
    ax.plot(xs, fit, color='#707070', linewidth=0.7, linestyle=(0, (4, 3)), zorder=4)

    dx = (x.max() - x.min()) * 0.05
    dy = (y.max() - y.min()) * 0.05
    ax.set_xlim(x.min() - dx, x.max() + dx)
    ax.set_ylim(y.min() - dy, y.max() + dy)

    ax.xaxis.set_major_locator(ticker.MultipleLocator(0.1))
    ax.xaxis.set_minor_locator(ticker.MultipleLocator(0.05))
    ax.yaxis.set_major_locator(ticker.MultipleLocator(50))
    ax.yaxis.set_minor_locator(ticker.MultipleLocator(25))
    ax.xaxis.set_major_formatter(ticker.FormatStrFormatter('%.1f'))
    ax.yaxis.set_major_formatter(ticker.FormatStrFormatter('%d'))
    ax.tick_params(which='major', length=3, width=0.5, color='#333333', pad=1.5,
                   labelsize=11.5, labelcolor='#333333')
    ax.tick_params(which='minor', length=0)
    for lab in ax.get_xticklabels() + ax.get_yticklabels():
        lab.set_fontweight('bold')

    ax.set_ylabel('zReHo', fontsize=14, fontweight='bold', color='#1A1A1A')
    ax.yaxis.set_label_coords(-56 / (r - l), 0.5)

    ax.text(0.045, 0.92, r'$\mathit{r}$=' + r_vals[i] + r' $\mathit{P}$=' + p_vals[i],
            transform=ax.transAxes, fontsize=13, color='#333333', va='center', ha='left')

    # top strip
    sh = strip_h[i]
    sax = fig.add_axes([l / W, 1 - t / H, (r - l) / W, sh / H])
    sax.set_facecolor('#D9D9D9')
    sax.set_xticks([])
    sax.set_yticks([])
    for sp in sax.spines.values():
        sp.set_visible(False)
    sax.text(0.5, 0.5, modules[i], transform=sax.transAxes, ha='center', va='center',
             fontsize=14, fontweight='bold', color='#1A1A1A')

    # right strip
    rax = fig.add_axes([(r + 4) / W, 1 - b / H, 54 / W, (b - t) / H])
    rax.set_facecolor('#D9D9D9')
    rax.set_xticks([])
    rax.set_yticks([])
    for sp in rax.spines.values():
        sp.set_visible(False)
    rax.text(0.5, 0.5, signs[i], transform=rax.transAxes, ha='center', va='center',
             rotation=-90, fontsize=14, fontweight='bold', color='#1A1A1A')

    fig.text(letter_xy[i][0] / W, 1 - letter_xy[i][1] / H, letters[i], fontsize=18.5,
             fontweight='bold', color='black', ha='center', va='center')

fig.savefig('out.png', dpi=300)
